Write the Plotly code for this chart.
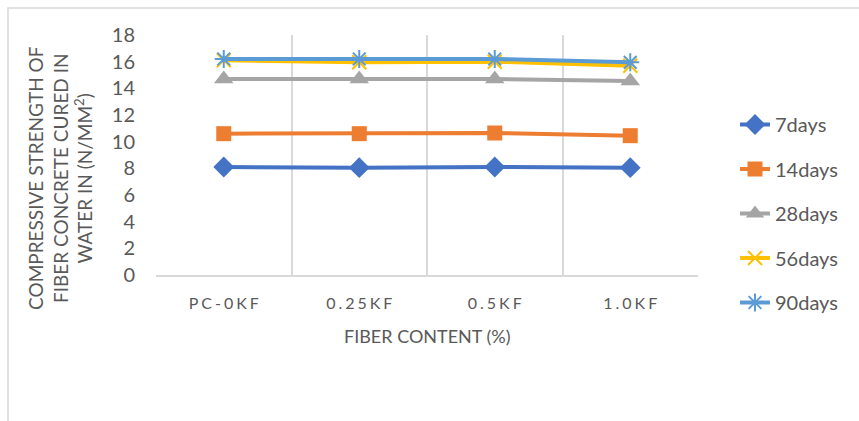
import plotly.graph_objects as go

# Fiber content categories (x axis) and curing ages
fiber_content = ["PC-0KF", "0.25KF", "0.5KF", "1.0KF"]

# Compressive strength (N/mm²) for each curing age
strength_7days = [8.1, 8.05, 8.1, 8.05]
strength_14days = [10.6, 10.6, 10.65, 10.45]
strength_28days = [14.7, 14.7, 14.7, 14.55]
strength_56days = [16.1, 15.95, 16.0, 15.7]
strength_90days = [16.2, 16.2, 16.2, 15.95]

y_ticks = [0, 2, 4, 6, 8, 10, 12, 14, 16, 18]

FONT = "Lato"
TEXT_GRAY = "#595959"
GRID_GRAY = "#D9D9D9"

# letter-spaced category labels
GAP = "\u2009\u200a"
tick_text = [GAP.join(list(c)) for c in fiber_content]

series = [
    ("7days", strength_7days, "#4472C4", dict(symbol="diamond", size=16)),
    ("14days", strength_14days, "#ED7D31", dict(symbol="square", size=15)),
    ("28days", strength_28days, "#A5A5A5", dict(symbol="triangle-up", size=17)),
    ("56days", strength_56days, "#FFC000",
     dict(symbol="x-thin-open", size=14, line=dict(width=2, color="#FFC000"))),
    ("90days", strength_90days, "#5B9BD5",
     dict(symbol="asterisk-open", size=15, line=dict(width=2, color="#5B9BD5"))),
]

fig = go.Figure()
for name, values, color, marker in series:
    m = dict(color=color)
    m.update(marker)
    fig.add_trace(go.Scatter(
        x=fiber_content, y=values, name=name, mode="lines+markers",
        line=dict(color=color, width=4), marker=m, legendgroup=name,
    ))

# plot area in pixels: x 156..698, y 35..275
L, R, T, B = 156, 698, 35, 275
W, H = R - L, B - T


def px_x(p):
    return (p - L) / W


def px_y(p):
    return (B - p) / H


fig.update_layout(
    width=859, height=421,
    margin=dict(l=L, r=859 - R, t=T, b=421 - B),
    paper_bgcolor="white", plot_bgcolor="white",
    font=dict(family=FONT, color=TEXT_GRAY),
    xaxis=dict(
        type="category", range=[-0.5, 3.5], tickson="boundaries",
        tickvals=fiber_content, ticktext=tick_text,
        showgrid=True, gridcolor=GRID_GRAY, gridwidth=1.5,
        showline=True, linecolor=GRID_GRAY, linewidth=1.5,
        ticks="", tickfont=dict(family=FONT, size=16, color=TEXT_GRAY),
        ticklabelstandoff=13, zeroline=False,
    ),
    yaxis=dict(
        range=[0, 18], tickvals=y_ticks, showgrid=False, zeroline=False,
        showline=False, ticks="",
        tickfont=dict(family=FONT, size=20, color=TEXT_GRAY),
        ticklabelstandoff=20,
    ),
    legend=dict(
        x=px_x(735), y=px_y(105), xanchor="left", yanchor="top",
        font=dict(family=FONT, size=20, color=TEXT_GRAY),
        tracegroupgap=15.5, bgcolor="rgba(0,0,0,0)",
    ),
    annotations=[
        dict(
            text="COMPRESSIVE STRENGTH OF<br>FIBER CONCRETE CURED IN<br>WATER IN (N/MM<sup>2</sup>)",
            xref="paper", yref="paper", x=px_x(60), y=px_y(178),
            xanchor="center", yanchor="middle", textangle=-90, showarrow=False,
            font=dict(family=FONT, size=19, color=TEXT_GRAY),
        ),
        dict(
            text="FIBER CONTENT (%)", xref="paper", yref="paper",
            x=0.5, y=px_y(336), xanchor="center", yanchor="middle",
            showarrow=False, font=dict(family=FONT, size=18, color=TEXT_GRAY),
        ),
    ],
    shapes=[
        # chart-area frame
        dict(type="rect", xref="paper", yref="paper",
             x0=px_x(8), x1=px_x(2000), y0=px_y(1000), y1=px_y(8),
             line=dict(color=GRID_GRAY, width=1.5), layer="below"),
    ],
)

fig.write_html("out.html")
